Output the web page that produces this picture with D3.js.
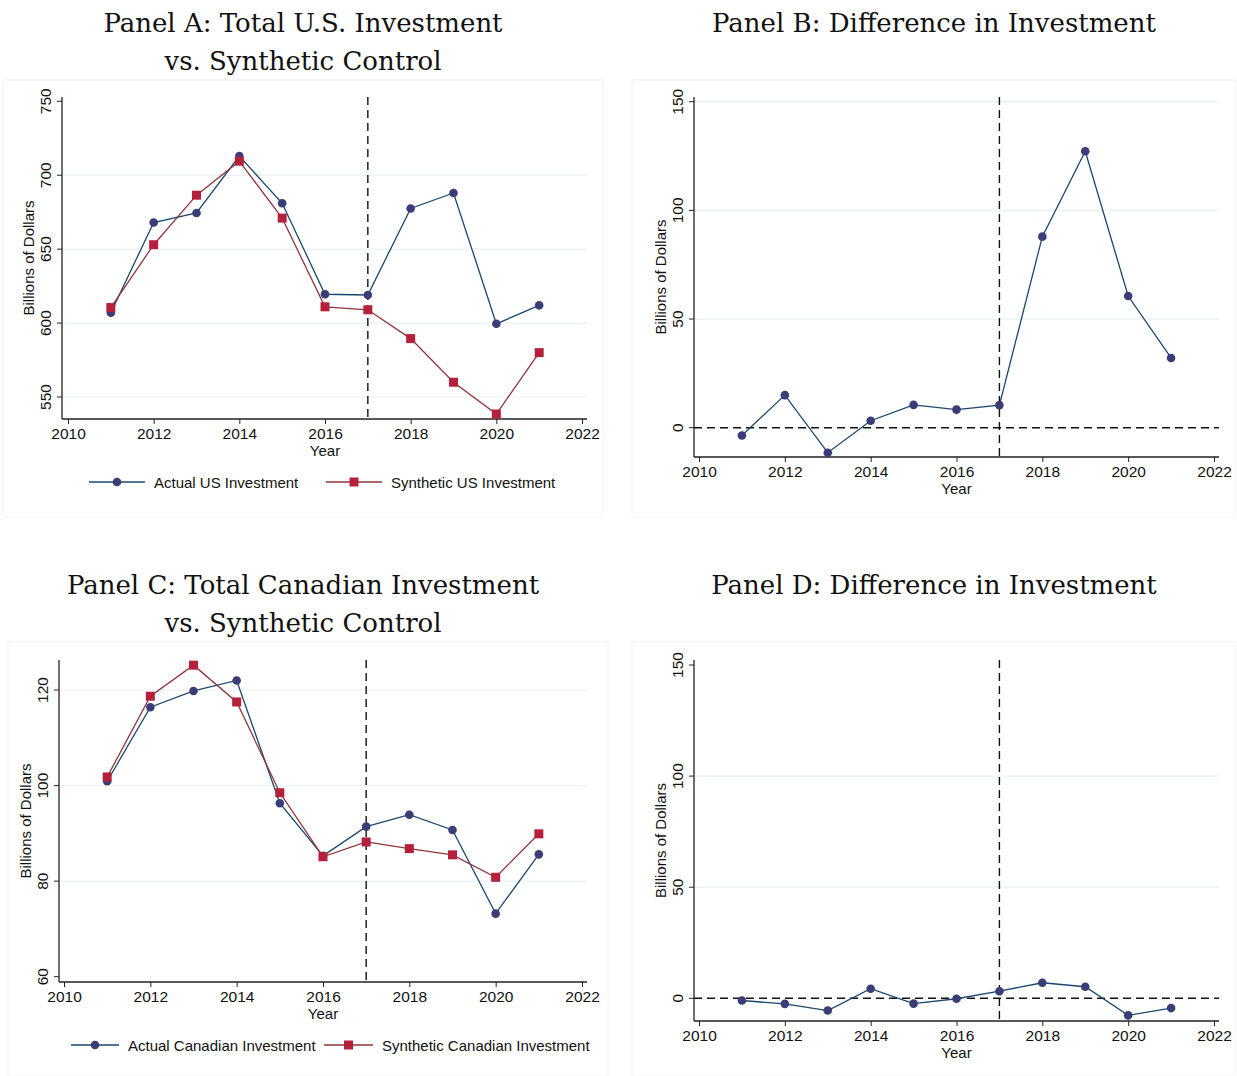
<!DOCTYPE html>
<html>
<head>
<meta charset="utf-8">
<script src="https://cdn.jsdelivr.net/npm/d3@7"></script>
<style>
  body { margin: 0; background: #fff; }
  .tick text { font-family: "Liberation Sans", Arial, sans-serif; font-size: 15.5px; fill: #111; }
  .ttl { font-family: "DejaVu Serif", serif; font-size: 26px; fill: #111; }
  .lbl { font-family: "Liberation Sans", Arial, sans-serif; font-size: 15px; fill: #111; }
</style>
</head>
<body>
<div id="chart-area"></div>
<script>
const years = [2011, 2012, 2013, 2014, 2015, 2016, 2017, 2018, 2019, 2020, 2021];
const actualUS = [607, 668, 674.5, 713, 681, 619.5, 619, 677.5, 688, 599.5, 612];
const syntheticUS = [610.5, 653, 686.5, 709.5, 671, 611, 609, 589.5, 560, 538.5, 580];
const diffUS = [-3.6, 15, -11.5, 3.2, 10.5, 8.3, 10.4, 87.9, 127.2, 60.6, 32.1];
const actualCA = [100.9, 116.4, 119.8, 122, 96.3, 85.3, 91.4, 93.9, 90.7, 73.2, 85.6];
const syntheticCA = [101.8, 118.7, 125.2, 117.5, 98.5, 85.1, 88.2, 86.8, 85.5, 80.8, 89.9];
const diffCA = [-1, -2.5, -5.5, 4.3, -2.4, -0.2, 3.2, 7, 5.2, -7.7, -4.4];
const xTicks = [2010, 2012, 2014, 2016, 2018, 2020, 2022];
const yTicksA = [550, 600, 650, 700, 750];
const yTicksC = [60, 80, 100, 120];
const yTicksDiff = [0, 50, 100, 150];
const treatYear = 2017;

const colors = { blueLine: "#1a476f", blueDot: "#3a3d78", redLine: "#90353b", redDot: "#b5213a" };

const svg = d3.select("#chart-area").append("svg")
  .attr("width", 1237).attr("height", 1076);

// faint panel frames
[[3, 80, 600, 437], [632, 80, 603, 437], [8, 642, 600, 434], [632, 642, 603, 434]].forEach(([x, y, w, h]) => {
  svg.append("rect").attr("x", x).attr("y", y).attr("width", w).attr("height", h)
    .attr("fill", "none").attr("stroke", "#f4f4f4");
});

const drawPanel = function(p) {
  const g = svg.append("g");
  const x = d3.scaleLinear().domain([2010, 2022]).range(p.xr);
  const y = d3.scaleLinear().domain(p.yd).range(p.yr);

  p.titles.forEach((t, i) => {
    g.append("text").attr("class", "ttl")
      .attr("x", p.tx).attr("y", p.ty + i * 38)
      .attr("text-anchor", "middle").text(t);
  });

  // gridlines
  g.selectAll(".grid").data(p.grid).enter().append("line")
    .attr("x1", p.left + 1).attr("x2", p.right)
    .attr("y1", d => y(d)).attr("y2", d => y(d))
    .attr("stroke", "#eaf2f3").attr("stroke-width", 1.2);

  // axes
  const yAxis = d3.axisLeft(y).tickValues(p.yTicks).tickSize(5).tickSizeOuter(0);
  const ya = g.append("g").attr("transform", `translate(${p.left},0)`).call(yAxis);
  ya.select(".domain").remove();
  ya.selectAll(".tick line").attr("stroke", "#222");
  ya.selectAll(".tick text")
    .attr("transform", d => `translate(${-11},${y(d)}) rotate(-90)`)
    .attr("x", 0).attr("y", 0).attr("dy", 0)
    .attr("text-anchor", "middle");
  ya.selectAll(".tick").attr("transform", function(d) {
    return d3.select(this).select("line").attr("transform", `translate(0,${y(d)})`), null;
  });
  g.append("line").attr("x1", p.left).attr("x2", p.left)
    .attr("y1", p.top).attr("y2", p.bottom).attr("stroke", "#222").attr("stroke-width", 1.3);

  const xAxis = d3.axisBottom(x).tickValues(xTicks).tickFormat(d3.format("d")).tickSize(5).tickSizeOuter(0);
  const xa = g.append("g").attr("transform", `translate(0,${p.bottom})`).call(xAxis);
  xa.select(".domain").remove();
  xa.selectAll(".tick line").attr("stroke", "#222");
  xa.selectAll(".tick text").attr("dy", "0.71em").attr("y", 9);
  g.append("line").attr("x1", p.left).attr("x2", p.right)
    .attr("y1", p.bottom).attr("y2", p.bottom).attr("stroke", "#222").attr("stroke-width", 1.3);

  g.append("text").attr("class", "lbl")
    .attr("transform", `translate(${p.left - 28},${(p.top + p.bottom) / 2}) rotate(-90)`)
    .attr("text-anchor", "middle").text("Billions of Dollars");
  g.append("text").attr("class", "lbl")
    .attr("x", x(2016)).attr("y", p.bottom + 37)
    .attr("text-anchor", "middle").text("Year");

  // reference lines
  if (p.zeroLine) {
    g.append("line").attr("x1", p.left).attr("x2", p.right)
      .attr("y1", y(0)).attr("y2", y(0))
      .attr("stroke", "#111").attr("stroke-width", 1.4).attr("stroke-dasharray", "8,5");
  }
  g.append("line").attr("x1", x(treatYear)).attr("x2", x(treatYear))
    .attr("y1", p.top).attr("y2", p.bottom)
    .attr("stroke", "#111").attr("stroke-width", 1.4).attr("stroke-dasharray", "8,5");

  const line = d3.line().x((d, i) => x(years[i])).y(d => y(d));
  p.series.forEach(s => {
    g.append("path").datum(s.values).attr("d", line)
      .attr("fill", "none").attr("stroke", s.line).attr("stroke-width", 1.3);
    if (s.shape === "circle") {
      g.selectAll(null).data(s.values).enter().append("circle")
        .attr("cx", (d, i) => x(years[i])).attr("cy", d => y(d))
        .attr("r", 4.3).attr("fill", s.dot);
    } else {
      g.selectAll(null).data(s.values).enter().append("rect")
        .attr("x", (d, i) => x(years[i]) - 4.5).attr("y", d => y(d) - 4.5)
        .attr("width", 9).attr("height", 9).attr("fill", s.dot);
    }
  });

  if (p.legend) {
    p.legend.forEach((l, i) => {
      const s = p.series[i];
      const lg = g.append("g").attr("transform", `translate(${l.x},${p.ly})`);
      lg.append("line").attr("x1", 0).attr("x2", l.w).attr("stroke", s.line).attr("stroke-width", 1.3);
      if (s.shape === "circle") {
        lg.append("circle").attr("cx", l.w / 2).attr("r", 4.3).attr("fill", s.dot);
      } else {
        lg.append("rect").attr("x", l.w / 2 - 4.5).attr("y", -4.5).attr("width", 9).attr("height", 9).attr("fill", s.dot);
      }
      lg.append("text").attr("class", "lbl").attr("x", l.w + 9).attr("y", 5.5).text(l.text);
    });
  }
};

const blue = v => ({ values: v, line: colors.blueLine, dot: colors.blueDot, shape: "circle" });
const red = v => ({ values: v, line: colors.redLine, dot: colors.redDot, shape: "square" });

drawPanel({
  titles: ["Panel A: Total U.S. Investment", "vs. Synthetic Control"], tx: 303, ty: 32,
  left: 62, right: 587, top: 97, bottom: 419, xr: [68, 582],
  yd: [550, 750], yr: [397, 101.3], yTicks: yTicksA, grid: [550, 600, 650, 700],
  series: [blue(actualUS), red(syntheticUS)],
  ly: 482, legend: [{ x: 89, w: 56, text: "Actual US Investment" }, { x: 326, w: 56, text: "Synthetic US Investment" }]
});
drawPanel({
  titles: ["Panel B: Difference in Investment"], tx: 934, ty: 32,
  left: 694, right: 1219, top: 97, bottom: 457, xr: [699, 1214],
  yd: [0, 150], yr: [427.7, 101.7], yTicks: yTicksDiff, grid: [50, 100, 150],
  zeroLine: true, series: [blue(diffUS)]
});
drawPanel({
  titles: ["Panel C: Total Canadian Investment", "vs. Synthetic Control"], tx: 303, ty: 594,
  left: 59, right: 587, top: 660, bottom: 982, xr: [64, 582],
  yd: [60, 120], yr: [976.7, 690], yTicks: yTicksC, grid: [80, 100, 120],
  series: [blue(actualCA), red(syntheticCA)],
  ly: 1045, legend: [{ x: 71, w: 48, text: "Actual Canadian Investment" }, { x: 324, w: 49, text: "Synthetic Canadian Investment" }]
});
drawPanel({
  titles: ["Panel D: Difference in Investment"], tx: 934, ty: 594,
  left: 694, right: 1219, top: 660, bottom: 1021, xr: [699, 1214],
  yd: [0, 150], yr: [998.3, 665], yTicks: yTicksDiff, grid: [50, 100],
  zeroLine: true, series: [blue(diffCA)]
});
</script>
</body>
</html>
